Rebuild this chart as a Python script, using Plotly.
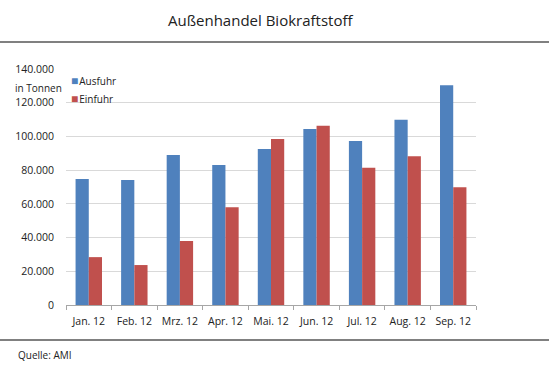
import plotly.graph_objects as go

categories = ["Jan. 12", "Feb. 12", "Mrz. 12", "Apr. 12", "Mai. 12", "Jun. 12", "Jul. 12", "Aug. 12", "Sep. 12"]
ausfuhr = [74700, 74200, 89000, 83000, 92500, 104400, 97300, 109900, 130300]
einfuhr = [28400, 23700, 38000, 58000, 98500, 106400, 81400, 88200, 69800]
series_names = ["Ausfuhr", "Einfuhr"]
colors = ["#4F81BD", "#C0504D"]
y_ticks = [0, 20000, 40000, 60000, 80000, 100000, 120000, 140000]

W, H = 549, 374
L, R, T, B = 66, 73, 69, 69
pw = W - L - R
ph = H - T - B

def px_x(x):
    return (x - L) / pw

def px_y(y):
    return 1 - (y - T) / ph

FONT = "Open Sans"

fig = go.Figure()
for name, vals, col in zip(series_names, [ausfuhr, einfuhr], colors):
    fig.add_trace(go.Bar(x=categories, y=vals, name=name, marker=dict(color=col, line=dict(width=0)),
                         showlegend=False))

annotations = [
    dict(text="Außenhandel Biokraftstoff", x=px_x(260), y=px_y(20), xref="paper", yref="paper",
         showarrow=False, xanchor="center", yanchor="middle",
         font=dict(family=FONT, size=15, color="#222")),
    dict(text="in Tonnen", x=px_x(38), y=px_y(88), xref="paper", yref="paper", showarrow=False,
         xanchor="center", yanchor="middle", font=dict(family=FONT, size=10, color="#222")),
    dict(text="Quelle: AMI", x=px_x(16), y=px_y(355), xref="paper", yref="paper", showarrow=False,
         xanchor="left", yanchor="middle", font=dict(family=FONT, size=10, color="#222")),
]

leg_y = [80, 98]
for name, col, yy in zip(series_names, colors, leg_y):
    annotations.append(dict(
        text=f"<span style='color:{col};font-size:12px'>■</span>&#8202;{name}", x=px_x(69), y=px_y(yy),
        xref="paper", yref="paper", showarrow=False, xanchor="left", yanchor="middle",
        font=dict(family=FONT, size=10, color="#222")))

shapes = [
    dict(type="line", xref="paper", yref="paper", x0=px_x(0), x1=px_x(W), y0=px_y(42), y1=px_y(42),
         line=dict(color="#808080", width=2)),
    dict(type="line", xref="paper", yref="paper", x0=px_x(0), x1=px_x(W), y0=px_y(340), y1=px_y(340),
         line=dict(color="#808080", width=2)),
]

fig.update_layout(
    width=W, height=H,
    margin=dict(l=L, r=R, t=T, b=B),
    paper_bgcolor="white", plot_bgcolor="white",
    barmode="group", bargap=0.42, bargroupgap=0,
    separators=",.",
    font=dict(family=FONT, size=10, color="#222"),
    annotations=annotations, shapes=shapes,
    xaxis=dict(showline=True, linecolor="#a6a6a6", linewidth=1, ticks="outside", tickson="boundaries",
               ticklen=4, tickcolor="#a6a6a6", showgrid=False, tickfont=dict(size=10.5),
               ticklabelstandoff=6),
    yaxis=dict(range=[0, 140000], tickvals=y_ticks, tickformat=",.0f", showgrid=True,
               gridcolor="#d9d9d9", gridwidth=1, zeroline=False, showline=False,
               ticks="", ticklabelstandoff=11, tickfont=dict(size=10.5)),
)

fig.write_html("out.html", config={"displayModeBar": False},
               post_script="document.body.style.margin='0';document.body.style.overflow='hidden';")
